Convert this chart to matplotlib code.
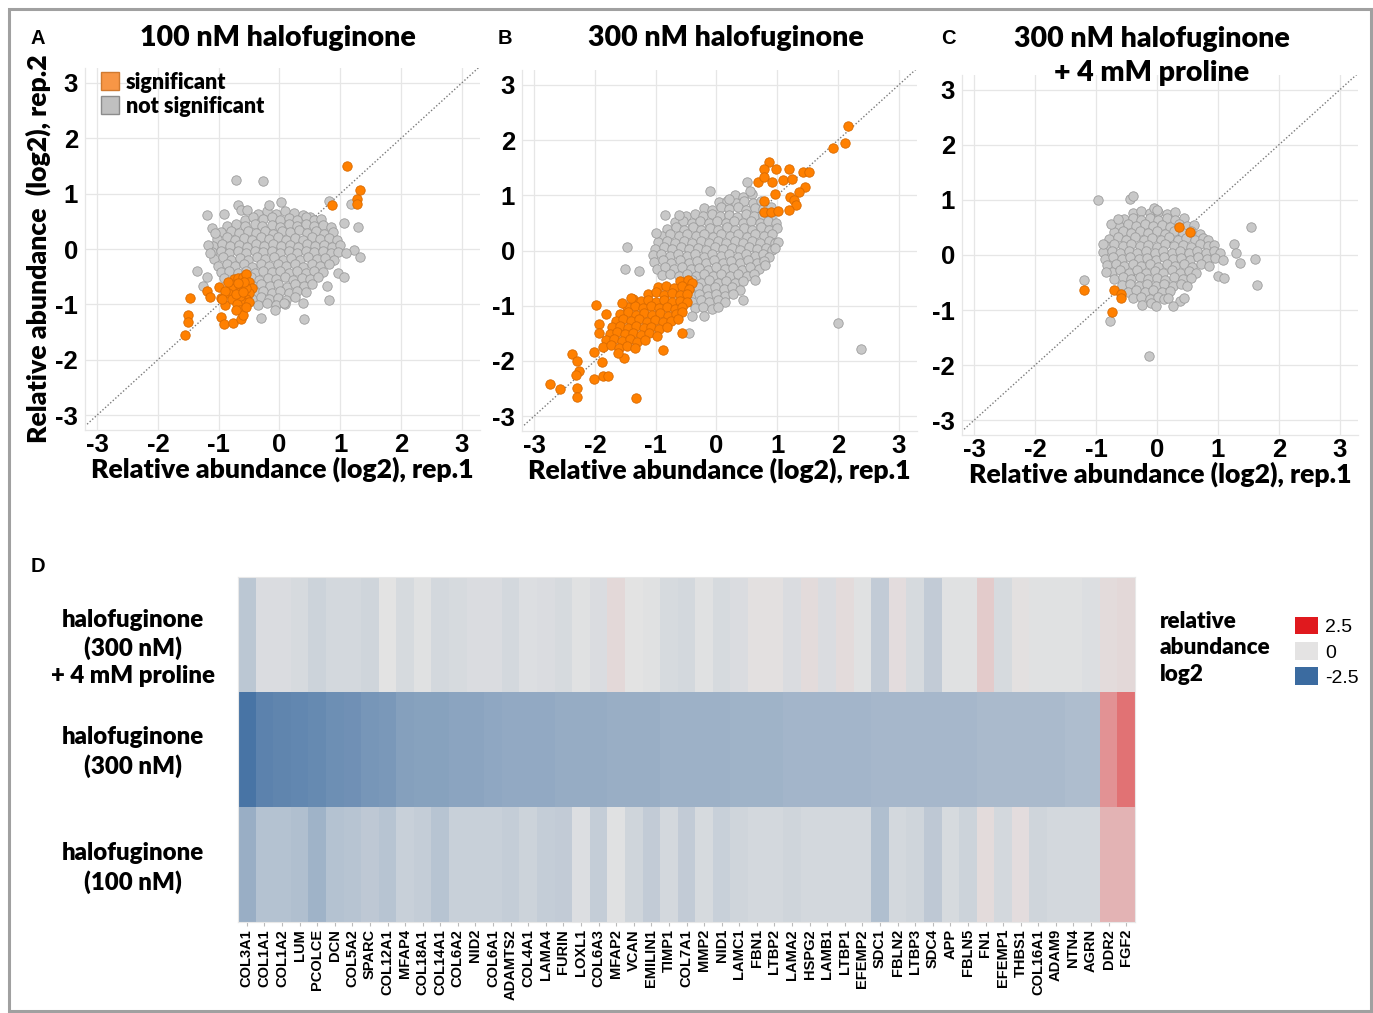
import numpy as np
import matplotlib
matplotlib.use("Agg")
import matplotlib.pyplot as plt
from matplotlib.colors import LinearSegmentedColormap
from matplotlib.lines import Line2D
from matplotlib.patches import Patch, Rectangle

# ---------------------------------------------------------------- scatter data
# (rep.1, rep.2) log2 ratios

A_GREY = [
    (-0.36, 0.64), (-0.21, 0.68), (-0.06, 0.63), (0.09, 0.69), (0.24, 0.65), (0.39, 0.62), (0.50, 0.58),
    (-0.56, 0.53), (-0.43, 0.57), (-0.27, 0.54), (-0.13, 0.58), (0.01, 0.52), (0.15, 0.56), (0.29, 0.53),
    (0.43, 0.57), (0.57, 0.52), (0.69, 0.55),
    (-0.86, 0.41), (-0.71, 0.45), (-0.57, 0.42), (-0.41, 0.46), (-0.28, 0.41), (-0.13, 0.44), (0.01, 0.40),
    (0.15, 0.45), (0.29, 0.42), (0.43, 0.46), (0.57, 0.41), (0.71, 0.44), (0.85, 0.40),
    (-0.96, 0.30), (-0.80, 0.33), (-0.66, 0.29), (-0.52, 0.33), (-0.38, 0.29), (-0.24, 0.32), (-0.10, 0.28),
    (0.04, 0.33), (0.18, 0.30), (0.32, 0.34), (0.46, 0.29), (0.60, 0.32), (0.74, 0.28), (0.88, 0.31),
    (-1.03, 0.18), (-0.87, 0.21), (-0.73, 0.17), (-0.59, 0.20), (-0.45, 0.16), (-0.31, 0.21), (-0.17, 0.18),
    (-0.03, 0.21), (0.11, 0.17), (0.25, 0.20), (0.39, 0.16), (0.53, 0.21), (0.67, 0.18), (0.81, 0.20), (0.95, 0.17),
    (-1.09, 0.06), (-0.95, 0.09), (-0.81, 0.05), (-0.67, 0.08), (-0.53, 0.04), (-0.39, 0.09), (-0.25, 0.06),
    (-0.11, 0.09), (0.03, 0.05), (0.17, 0.08), (0.31, 0.04), (0.45, 0.09), (0.59, 0.06), (0.73, 0.08),
    (0.87, 0.04), (0.99, 0.07),
    (-1.11, -0.06), (-0.97, -0.03), (-0.83, -0.07), (-0.69, -0.04), (-0.55, -0.08), (-0.41, -0.03),
    (-0.27, -0.06), (-0.13, -0.03), (0.01, -0.07), (0.15, -0.04), (0.29, -0.08), (0.43, -0.03),
    (0.57, -0.06), (0.71, -0.04), (0.85, -0.07), (0.97, -0.05),
    (-1.07, -0.18), (-0.93, -0.15), (-0.79, -0.19), (-0.65, -0.16), (-0.51, -0.20), (-0.37, -0.15),
    (-0.23, -0.18), (-0.09, -0.15), (0.05, -0.19), (0.19, -0.16), (0.33, -0.20), (0.47, -0.15),
    (0.61, -0.18), (0.75, -0.16), (0.89, -0.19),
    (-1.01, -0.30), (-0.87, -0.27), (-0.73, -0.31), (-0.59, -0.28), (-0.45, -0.32), (-0.31, -0.27),
    (-0.17, -0.30), (-0.03, -0.27), (0.11, -0.31), (0.25, -0.28), (0.39, -0.32), (0.53, -0.27),
    (0.67, -0.30), (0.81, -0.28),
    (-0.97, -0.42), (-0.83, -0.39), (-0.69, -0.43), (-0.55, -0.40), (-0.41, -0.44), (-0.27, -0.39),
    (-0.13, -0.42), (0.01, -0.39), (0.15, -0.43), (0.29, -0.40), (0.43, -0.44), (0.57, -0.39), (0.71, -0.42),
    (-0.91, -0.52), (-0.63, -0.55), (-0.47, -0.51), (-0.33, -0.56), (-0.19, -0.52), (-0.05, -0.55),
    (0.09, -0.51), (0.23, -0.56), (0.37, -0.52), (0.51, -0.55), (0.63, -0.51),
    (-0.44, -0.66), (-0.30, -0.63), (-0.16, -0.67), (-0.02, -0.64), (0.12, -0.68), (0.26, -0.63),
    (0.40, -0.66), (0.54, -0.64),
    (-0.41, -0.78), (-0.27, -0.75), (-0.13, -0.79), (0.01, -0.76), (0.15, -0.80), (0.29, -0.75), (0.43, -0.78),
    (-0.46, -0.90), (-0.31, -0.87), (-0.17, -0.91), (-0.03, -0.88), (0.11, -0.92), (0.25, -0.87),
    (-0.36, -1.01), (-0.21, -0.98), (-0.06, -1.02), (0.09, -0.99),
    (-0.72, 1.24), (-0.27, 1.22), (-0.18, 0.79), (0.03, 0.85), (-1.19, 0.62), (-0.92, 0.64), (-0.69, 0.79),
    (-0.64, 0.70), (-0.54, 0.70), (0.81, 0.87), (1.17, 0.82), (1.29, 0.40), (1.06, 0.47), (1.22, -0.01),
    (1.32, -0.15), (1.10, -0.07), (0.97, -0.44), (1.07, -0.51), (0.78, -0.66), (0.82, -0.93), (0.40, -1.27),
    (-0.31, -1.24), (-0.07, -1.10), (-1.35, -0.39), (-1.19, -0.50), (-1.26, -0.66), (-1.17, 0.08),
    (-1.14, -0.07), (-1.11, 0.38), (-1.06, 0.29), (0.08, -0.97), (0.39, -0.97),
]
A_SIG = [
    (1.11, 1.50), (1.32, 1.07), (1.28, 0.90), (1.28, 0.82), (0.86, 0.79),
    (-1.48, -0.89), (-1.50, -1.19), (-1.50, -1.32), (-1.56, -1.56), (-1.19, -0.75), (-1.15, -0.86),
    (-1.00, -0.68), (-0.97, -0.88), (-0.97, -1.22), (-0.91, -1.36), (-0.77, -1.33), (-0.64, -1.27),
    (-0.89, -1.01), (-0.75, -0.55), (-0.68, -0.52), (-0.60, -0.50), (-0.55, -0.45), (-0.50, -0.60),
    (-0.45, -0.70), (-0.50, -0.80), (-0.55, -0.90), (-0.60, -0.95), (-0.65, -0.85), (-0.70, -0.75),
    (-0.75, -0.65), (-0.80, -0.70), (-0.85, -0.80), (-0.78, -0.90), (-0.70, -1.00), (-0.65, -1.10),
    (-0.60, -1.20), (-0.62, -0.65), (-0.55, -0.70), (-0.58, -0.60), (-0.68, -0.62), (-0.72, -0.82),
    (-0.60, -0.78), (-0.50, -0.95), (-0.72, -1.10), (-0.90, -0.75), (-0.95, -0.90), (-0.85, -0.60),
    (-0.55, -1.05),
]

B_GREY = [
    (0.30, 1.01), (0.44, 0.97), (0.58, 1.02),
    (0.04, 0.87), (0.18, 0.90), (0.32, 0.86), (0.46, 0.90), (0.60, 0.86), (0.74, 0.89),
    (-0.21, 0.77), (-0.07, 0.74), (0.07, 0.78), (0.21, 0.75), (0.35, 0.79), (0.49, 0.74), (0.63, 0.77),
    (0.77, 0.75), (0.90, 0.78),
    (-0.50, 0.63), (-0.36, 0.66), (-0.22, 0.62), (-0.08, 0.66), (0.06, 0.62), (0.20, 0.65), (0.34, 0.61),
    (0.48, 0.66), (0.62, 0.62), (0.76, 0.65), (0.90, 0.61),
    (-0.69, 0.51), (-0.55, 0.54), (-0.41, 0.50), (-0.27, 0.54), (-0.13, 0.50), (0.01, 0.53), (0.15, 0.49),
    (0.29, 0.54), (0.43, 0.50), (0.57, 0.53), (0.71, 0.49), (0.85, 0.54), (0.98, 0.50),
    (-0.81, 0.39), (-0.67, 0.42), (-0.53, 0.38), (-0.39, 0.42), (-0.25, 0.38), (-0.11, 0.41), (0.03, 0.37),
    (0.17, 0.42), (0.31, 0.38), (0.45, 0.41), (0.59, 0.37), (0.73, 0.42), (0.87, 0.38), (1.00, 0.41),
    (-0.90, 0.27), (-0.76, 0.30), (-0.62, 0.26), (-0.48, 0.30), (-0.34, 0.26), (-0.20, 0.29), (-0.06, 0.25),
    (0.08, 0.30), (0.22, 0.26), (0.36, 0.29), (0.50, 0.25), (0.64, 0.30), (0.78, 0.26), (0.92, 0.29),
    (-0.96, 0.15), (-0.82, 0.18), (-0.68, 0.14), (-0.54, 0.18), (-0.40, 0.14), (-0.26, 0.17), (-0.12, 0.13),
    (0.02, 0.18), (0.16, 0.14), (0.30, 0.17), (0.44, 0.13), (0.58, 0.18), (0.72, 0.14), (0.86, 0.17), (0.97, 0.13),
    (-1.01, 0.03), (-0.87, 0.06), (-0.73, 0.02), (-0.59, 0.06), (-0.45, 0.02), (-0.31, 0.05), (-0.17, 0.01),
    (-0.03, 0.06), (0.11, 0.02), (0.25, 0.05), (0.39, 0.01), (0.53, 0.06), (0.67, 0.02), (0.81, 0.05), (0.92, 0.01),
    (-1.05, -0.09), (-0.91, -0.06), (-0.77, -0.10), (-0.63, -0.06), (-0.49, -0.10), (-0.35, -0.07),
    (-0.21, -0.11), (-0.07, -0.06), (0.07, -0.10), (0.21, -0.07), (0.35, -0.11), (0.49, -0.06),
    (0.63, -0.10), (0.77, -0.07), (0.86, -0.11),
    (-1.02, -0.21), (-0.88, -0.18), (-0.74, -0.22), (-0.60, -0.18), (-0.46, -0.22), (-0.32, -0.19),
    (-0.18, -0.23), (-0.04, -0.18), (0.10, -0.22), (0.24, -0.19), (0.38, -0.23), (0.52, -0.18),
    (0.66, -0.22), (0.78, -0.19),
    (-0.98, -0.33), (-0.84, -0.30), (-0.70, -0.34), (-0.56, -0.30), (-0.42, -0.34), (-0.28, -0.31),
    (-0.14, -0.35), (0.00, -0.30), (0.14, -0.34), (0.28, -0.31), (0.42, -0.35), (0.56, -0.30), (0.70, -0.34),
    (-0.90, -0.45), (-0.76, -0.42), (-0.62, -0.46), (-0.48, -0.42), (-0.34, -0.46), (-0.20, -0.43),
    (-0.06, -0.47), (0.08, -0.42), (0.22, -0.46), (0.36, -0.43), (0.50, -0.47), (0.61, -0.43),
    (-0.54, -0.57), (-0.40, -0.54), (-0.26, -0.58), (-0.12, -0.54), (0.02, -0.58), (0.16, -0.55),
    (0.30, -0.59), (0.44, -0.55),
    (-0.44, -0.69), (-0.30, -0.66), (-0.16, -0.70), (-0.02, -0.66), (0.12, -0.70), (0.26, -0.67), (0.38, -0.71),
    (-0.42, -0.81), (-0.28, -0.78), (-0.14, -0.82), (0.00, -0.78), (0.14, -0.82), (0.27, -0.79),
    (-0.40, -0.93), (-0.26, -0.90), (-0.12, -0.94), (0.02, -0.90), (0.14, -0.94),
    (-0.36, -1.05), (-0.22, -1.02), (-0.08, -1.06), (0.02, -1.02),
    (-0.40, -1.18), (-0.21, -1.18), (-0.55, -0.99), (-0.45, -1.49), (-1.00, 0.31), (-1.48, 0.06),
    (-1.50, -0.33), (-1.27, -0.38), (-0.84, 0.64), (-0.62, 0.65), (-0.10, 1.07), (0.20, 0.94), (0.51, 1.25),
    (0.56, 1.07), (1.02, 0.16), (0.97, 0.04), (0.80, -0.26), (0.64, -0.53), (0.44, -0.89),
    (2.00, -1.32), (2.38, -1.79),
]
B_SIG = [
    (-0.60, -0.56), (-0.47, -0.53), (-0.40, -0.58),
    (-0.96, -0.67), (-0.83, -0.64), (-0.70, -0.68), (-0.57, -0.65), (-0.46, -0.70),
    (-1.12, -0.79), (-0.99, -0.76), (-0.86, -0.80), (-0.73, -0.77), (-0.60, -0.81), (-0.49, -0.78),
    (-1.38, -0.88), (-1.25, -0.92), (-1.12, -0.89), (-0.99, -0.93), (-0.86, -0.90), (-0.73, -0.94),
    (-0.60, -0.91), (-0.48, -0.93),
    (-1.47, -1.03), (-1.34, -1.00), (-1.21, -1.04), (-1.08, -1.01), (-0.95, -1.05), (-0.82, -1.02),
    (-0.69, -1.06), (-0.56, -1.03),
    (-1.58, -1.15), (-1.45, -1.12), (-1.32, -1.16), (-1.19, -1.13), (-1.06, -1.17), (-0.93, -1.14),
    (-0.80, -1.18), (-0.67, -1.15), (-0.57, -1.12),
    (-1.66, -1.27), (-1.53, -1.24), (-1.40, -1.28), (-1.27, -1.25), (-1.14, -1.29), (-1.01, -1.26),
    (-0.88, -1.30), (-0.75, -1.27), (-0.63, -1.24),
    (-1.72, -1.39), (-1.59, -1.36), (-1.46, -1.40), (-1.33, -1.37), (-1.20, -1.41), (-1.07, -1.38),
    (-0.94, -1.42), (-0.81, -1.39),
    (-1.76, -1.51), (-1.63, -1.48), (-1.50, -1.52), (-1.37, -1.49), (-1.24, -1.53), (-1.11, -1.50),
    (-0.98, -1.54), (-0.56, -1.49),
    (-1.82, -1.63), (-1.69, -1.60), (-1.56, -1.64), (-1.43, -1.61), (-1.30, -1.65), (-1.17, -1.62),
    (-1.86, -1.75), (-1.73, -1.72), (-1.60, -1.76), (-1.47, -1.73), (-1.34, -1.77),
    (-1.52, -1.94), (-0.88, -1.81), (-1.62, -1.86),
    (-2.74, -2.42), (-2.58, -2.51), (-2.38, -1.87), (-2.30, -2.01), (-2.26, -2.19), (-2.31, -2.26),
    (-2.30, -2.49), (-2.30, -2.66), (-2.01, -2.33), (-1.87, -2.27), (-1.79, -2.28), (-1.89, -2.02),
    (-2.01, -1.84), (-1.32, -2.67), (-1.98, -0.99), (-1.93, -1.34), (-1.94, -1.49), (-1.82, -1.15),
    (-1.55, -0.95), (-1.41, -0.86),
    (0.87, 1.60), (0.79, 1.48), (0.98, 1.47), (1.19, 1.48), (1.43, 1.42), (1.53, 1.43), (0.68, 1.25),
    (0.78, 1.33), (0.91, 1.24), (1.09, 1.27), (1.25, 1.30), (1.46, 1.15), (1.35, 1.06), (0.97, 1.02),
    (0.79, 0.89), (1.21, 0.97), (1.27, 0.91), (1.31, 0.83), (0.78, 0.69), (0.89, 0.70), (1.02, 0.72),
    (1.20, 0.73), (1.92, 1.86), (2.12, 1.95), (2.17, 2.26),
]

C_GREY = [
    (-0.40, 0.77), (-0.26, 0.80), (-0.12, 0.76), (0.02, 0.79), (0.16, 0.75), (0.30, 0.78),
    (-0.54, 0.65), (-0.40, 0.68), (-0.26, 0.64), (-0.12, 0.67), (0.02, 0.63), (0.16, 0.68), (0.30, 0.64), (0.44, 0.67),
    (-0.62, 0.53), (-0.48, 0.56), (-0.34, 0.52), (-0.20, 0.56), (-0.06, 0.52), (0.08, 0.55), (0.22, 0.51),
    (0.36, 0.56), (0.50, 0.52), (0.60, 0.55),
    (-0.70, 0.41), (-0.56, 0.44), (-0.42, 0.40), (-0.28, 0.44), (-0.14, 0.40), (0.00, 0.43), (0.14, 0.39),
    (0.28, 0.44), (0.42, 0.40), (0.56, 0.43), (0.70, 0.39),
    (-0.78, 0.29), (-0.64, 0.32), (-0.50, 0.28), (-0.36, 0.32), (-0.22, 0.28), (-0.08, 0.31), (0.06, 0.27),
    (0.20, 0.32), (0.34, 0.28), (0.48, 0.31), (0.62, 0.27), (0.76, 0.31), (0.84, 0.27),
    (-0.84, 0.17), (-0.70, 0.20), (-0.56, 0.16), (-0.42, 0.20), (-0.28, 0.16), (-0.14, 0.19), (0.00, 0.15),
    (0.14, 0.20), (0.28, 0.16), (0.42, 0.19), (0.56, 0.15), (0.70, 0.20), (0.84, 0.16), (0.94, 0.19),
    (-0.88, 0.05), (-0.74, 0.08), (-0.60, 0.04), (-0.46, 0.08), (-0.32, 0.04), (-0.18, 0.07), (-0.04, 0.03),
    (0.10, 0.08), (0.24, 0.04), (0.38, 0.07), (0.52, 0.03), (0.66, 0.08), (0.80, 0.04), (0.94, 0.07), (1.04, 0.03),
    (-0.86, -0.07), (-0.72, -0.04), (-0.58, -0.08), (-0.44, -0.04), (-0.30, -0.08), (-0.16, -0.05),
    (-0.02, -0.09), (0.12, -0.04), (0.26, -0.08), (0.40, -0.05), (0.54, -0.09), (0.68, -0.04),
    (0.82, -0.08), (0.96, -0.05), (1.08, -0.09),
    (-0.82, -0.19), (-0.68, -0.16), (-0.54, -0.20), (-0.40, -0.16), (-0.26, -0.20), (-0.12, -0.17),
    (0.02, -0.21), (0.16, -0.16), (0.30, -0.20), (0.44, -0.17), (0.58, -0.21), (0.72, -0.16), (0.86, -0.20),
    (-0.74, -0.31), (-0.60, -0.28), (-0.46, -0.32), (-0.32, -0.28), (-0.18, -0.32), (-0.04, -0.29),
    (0.10, -0.33), (0.24, -0.28), (0.38, -0.32), (0.52, -0.29), (0.64, -0.33),
    (-0.70, -0.43), (-0.56, -0.40), (-0.42, -0.44), (-0.28, -0.40), (-0.14, -0.44), (0.00, -0.41),
    (0.14, -0.45), (0.28, -0.40), (0.42, -0.44), (0.56, -0.41),
    (-0.58, -0.55), (-0.44, -0.52), (-0.30, -0.56), (-0.16, -0.52), (-0.02, -0.56), (0.12, -0.53),
    (0.26, -0.57), (0.40, -0.53), (0.50, -0.57),
    (-0.48, -0.67), (-0.34, -0.64), (-0.20, -0.68), (-0.06, -0.64), (0.08, -0.68), (0.22, -0.65),
    (-0.40, -0.79), (-0.26, -0.76), (-0.12, -0.80), (0.02, -0.76), (0.12, -0.80),
    (-0.24, -0.91), (-0.10, -0.88), (-0.02, -0.93),
    (-0.96, 1.00), (-0.44, 1.01), (-0.40, 1.08), (-0.76, 0.57), (-0.64, 0.65), (-0.88, 0.20),
    (-1.19, -0.45), (-0.83, -0.31), (-0.77, -1.20), (-0.13, -1.83), (1.54, 0.51), (1.27, 0.20),
    (1.30, 0.04), (1.37, -0.14), (1.61, -0.07), (1.64, -0.54), (1.00, -0.38), (1.10, -0.41),
    (0.38, -0.83), (0.44, -0.79), (0.26, -0.93), (0.18, -0.79), (-0.05, 0.85), (0.00, 0.82),
]
C_SIG = [
    (0.37, 0.50), (0.54, 0.42), (-0.70, -0.64), (-0.59, -0.70), (-0.59, -0.78), (-0.73, -1.04), (-1.19, -0.63),
]

PANEL_TITLES = ["100 nM halofuginone", "300 nM halofuginone", "300 nM halofuginone\n+ 4 mM proline"]
PANEL_LETTERS = ["A", "B", "C"]
AXIS_TICKS = [-3, -2, -1, 0, 1, 2, 3]

# ---------------------------------------------------------------- heatmap data
GENES = [
    "COL3A1", "COL1A1", "COL1A2", "LUM", "PCOLCE", "DCN", "COL5A2", "SPARC", "COL12A1", "MFAP4",
    "COL18A1", "COL14A1", "COL6A2", "NID2", "COL6A1", "ADAMTS2", "COL4A1", "LAMA4", "FURIN", "LOXL1",
    "COL6A3", "MFAP2", "VCAN", "EMILIN1", "TIMP1", "COL7A1", "MMP2", "NID1", "LAMC1", "FBN1",
    "LTBP2", "LAMA2", "HSPG2", "LAMB1", "LTBP1", "EFEMP2", "SDC1", "FBLN2", "LTBP3", "SDC4",
    "APP", "FBLN5", "FN1", "EFEMP1", "THBS1", "COL16A1", "ADAM9", "NTN4", "AGRN", "DDR2", "FGF2",
]
HM_ROWS = ["halofuginone\n(300 nM)\n+ 4 mM proline", "halofuginone\n(300 nM)", "halofuginone\n(100 nM)"]
HF300_PRO = [
    -0.60, -0.15, -0.15, -0.20, -0.35, -0.25, -0.25, -0.30, 0.00, -0.20,
    -0.05, -0.25, -0.20, -0.15, -0.15, -0.25, -0.10, -0.15, -0.20, -0.05,
    -0.15, 0.15, 0.00, -0.05, -0.20, -0.25, -0.05, -0.20, -0.15, 0.05,
    0.05, -0.15, 0.10, -0.15, 0.10, -0.05, -0.50, 0.08, -0.20, -0.50,
    -0.05, -0.05, 0.30, -0.20, 0.05, -0.05, -0.05, -0.05, -0.10, 0.10, 0.15,
]
HF300 = [
    -2.30, -2.00, -1.95, -1.90, -1.85, -1.75, -1.70, -1.60, -1.55, -1.40,
    -1.35, -1.35, -1.30, -1.30, -1.25, -1.20, -1.20, -1.20, -1.15, -1.15,
    -1.15, -1.10, -1.10, -1.10, -1.05, -1.05, -1.05, -1.05, -1.00, -1.00,
    -1.00, -0.95, -0.95, -0.95, -0.95, -0.95, -0.90, -0.90, -0.90, -0.90,
    -0.90, -0.90, -0.85, -0.85, -0.85, -0.85, -0.85, -0.80, -0.80, 1.00, 1.40,
]
HF100 = [
    -1.10, -0.70, -0.70, -0.75, -1.00, -0.70, -0.65, -0.55, -0.65, -0.40,
    -0.45, -0.65, -0.40, -0.40, -0.40, -0.45, -0.35, -0.45, -0.50, -0.10,
    -0.45, -0.05, -0.30, -0.50, -0.25, -0.50, -0.20, -0.40, -0.30, -0.25,
    -0.25, -0.30, -0.25, -0.25, -0.25, -0.25, -0.75, -0.25, -0.30, -0.55,
    -0.20, -0.35, 0.10, -0.25, 0.08, -0.30, -0.25, -0.25, -0.25, 0.60, 0.60,
]
LEGEND_VALUES = [2.5, 0, -2.5]

# ---------------------------------------------------------------- styling
W, H = 1373, 1013
TXT = ["Lato", "DejaVu Sans"]
NUM = ["Liberation Sans", "DejaVu Sans"]
HEAVY = 800
ORANGE, ORANGE_EDGE = "#FF8000", "#D96A00"
GREY, GREY_EDGE = "#C8C8C8", "#9C9C9C"
CMAP = LinearSegmentedColormap.from_list("abund", ["#3B6BA0", "#E4E4E4", "#E0191E"])


def fx(x):
    return x / W


def fy(y):
    return 1 - y / H


def box(left, top, right, bottom):
    return [fx(left), fy(bottom), (right - left) / W, (bottom - top) / H]


fig = plt.figure(figsize=(W / 100, H / 100), dpi=100)

# grey frame round the whole figure
fig.patches.append(Rectangle((fx(9), fy(1011)), fx(1362), (1002) / H, transform=fig.transFigure,
                             fill=False, edgecolor="#A0A0A0", linewidth=2.2))

panels = [
    (box(85, 68, 480, 430), A_GREY, A_SIG, 278, 38),
    (box(522, 70, 917, 431), B_GREY, B_SIG, 726, 38),
    (box(962, 75, 1358, 435), C_GREY, C_SIG, 1152, 56),
]
letter_x = [38, 505, 948]

for i, (rect, grey, sig, tx, ty) in enumerate(panels):
    ax = fig.add_axes(rect)
    lim = (-3.25, 3.3)
    ax.plot(lim, lim, ls=(0, (1, 1.5)), color="#7A7A7A", lw=1.0, zorder=1)
    gx, gy = zip(*grey)
    sx, sy = zip(*sig)
    ax.scatter(gx, gy, s=46, c=GREY, edgecolors=GREY_EDGE, linewidths=0.6, zorder=2)
    ax.scatter(sx, sy, s=46, c=ORANGE, edgecolors=ORANGE_EDGE, linewidths=0.6, zorder=3)
    ax.set_xlim(-3.2, 3.3)
    ax.set_ylim(-3.27, 3.27)
    ax.set_xticks(AXIS_TICKS)
    ax.set_yticks(AXIS_TICKS)
    ax.set_xticklabels([str(t) for t in AXIS_TICKS], fontfamily=NUM, fontweight="bold", fontsize=18.5)
    ax.set_yticklabels([str(t) for t in AXIS_TICKS], fontfamily=NUM, fontweight="bold", fontsize=18.5)
    ax.tick_params(length=0, pad=5)
    ax.tick_params(axis="x", pad=2)
    ax.grid(True, color="#E6E6E6", lw=0.9, zorder=0)
    ax.set_axisbelow(True)
    for side in ["top", "right"]:
        ax.spines[side].set_visible(False)
    for side in ["left", "bottom"]:
        ax.spines[side].set_color("#E6E6E6")
        ax.spines[side].set_linewidth(0.9)
    ax.set_xlabel("Relative abundance (log2), rep.1", fontfamily=TXT, fontweight=HEAVY,
                  fontsize=19.2, labelpad=0)
    if i == 0:
        ax.set_ylabel("Relative abundance  (log2), rep.2", fontfamily=TXT, fontweight=HEAVY,
                      fontsize=19.2, labelpad=3)
        handles = [
            Line2D([], [], marker="s", ls="", markersize=12.5, mfc="#F79646", mec="#D07A30"),
            Line2D([], [], marker="s", ls="", markersize=12.5, mfc="#C0C0C0", mec="#8C8C8C"),
        ]
        ax.legend(handles, ["significant", "not significant"], loc="upper left",
                  bbox_to_anchor=(fx(101), fy(72)), bbox_transform=fig.transFigure,
                  frameon=False, handletextpad=0.35, borderpad=0, borderaxespad=0, labelspacing=0.12,
                  handlelength=0.8, prop={"family": TXT, "weight": HEAVY, "size": 15.5})
    fig.text(fx(tx), fy(ty), PANEL_TITLES[i], ha="center", va="center", fontfamily=TXT,
             fontweight=HEAVY, fontsize=20.5, linespacing=1.38)
    fig.text(fx(letter_x[i]), fy(38), PANEL_LETTERS[i], ha="center", va="center",
             fontfamily=NUM, fontweight="bold", fontsize=14.5)

# ---------------------------------------------------------------- heatmap
hm = fig.add_axes(box(238, 577, 1135, 922))
matrix = np.array([HF300_PRO, HF300, HF100])
hm.imshow(matrix, cmap=CMAP, vmin=-2.5, vmax=2.5, aspect="auto", interpolation="nearest")
hm.set_xticks(range(len(GENES)))
hm.set_xticklabels(GENES, rotation=90, fontfamily=NUM, fontweight="bold", fontsize=10.5)
hm.set_yticks([])
hm.tick_params(axis="x", length=3, color="#BBBBBB", pad=2)
for s in hm.spines.values():
    s.set_color("#E8E8E8")
    s.set_linewidth(0.8)

row_label_y = [648, 752, 868]
for label, y in zip(HM_ROWS, row_label_y):
    fig.text(fx(133), fy(y), label, ha="center", va="center", fontfamily=TXT, fontweight=HEAVY,
             fontsize=17.3, linespacing=1.3)

fig.text(fx(38), fy(566), "D", ha="center", va="center", fontfamily=NUM, fontweight="bold", fontsize=14.5)

fig.text(fx(1160), fy(648), "relative\nabundance\nlog2", ha="left", va="center", fontfamily=TXT,
         fontweight=HEAVY, fontsize=16.2, linespacing=1.3)
leg_handles = [Patch(facecolor=CMAP((v + 2.5) / 5.0), edgecolor="none") for v in LEGEND_VALUES]
hm.legend(leg_handles, [str(v) for v in LEGEND_VALUES], loc="upper left",
          bbox_to_anchor=(fx(1295), fy(617)), bbox_transform=fig.transFigure, frameon=False,
          handlelength=1.2, handleheight=1.0, handletextpad=0.35, labelspacing=0.3, borderpad=0,
          borderaxespad=0, prop={"family": NUM, "size": 14})

fig.savefig("out.png", dpi=100)
